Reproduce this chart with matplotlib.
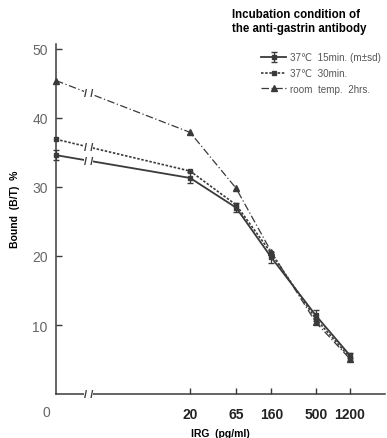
import numpy as np
import matplotlib
matplotlib.use("Agg")
from matplotlib import pyplot

pyplot.rcParams['font.family'] = ['Liberation Sans', 'DejaVu Sans']

# IRG concentrations (pg/ml); 0 is drawn at the broken left end of the axis
irg = [0, 20, 65, 160, 500, 1200]
bound_15min = [34.6, 31.3, 27.0, 19.8, 11.4, 5.6]
sd_15min = [0.7, 0.8, 0.7, 0.8, 0.8, 0.4]
bound_30min = [36.9, 32.3, 27.4, 20.4, 10.9, 5.3]
bound_room = [45.4, 37.9, 29.8, 20.6, 10.4, 5.1]
tick_labels = ["20", "65", "160", "500", "1200"]

zero_pos = -0.19
break_pos = 0.17


def xpos(values):
    return np.array([zero_pos if v == 0 else np.log10(v) for v in values])


def break_y(series):
    # height of the line where it crosses the axis break
    x = xpos(irg)
    return series[0] + (series[1] - series[0]) * (break_pos - x[0]) / (x[1] - x[0])


fig = pyplot.figure(figsize=(3.87, 4.39), dpi=100)
ax = fig.add_axes([0.145, 0.1, 0.85, 0.7975])

ink = "#3a3a3a"
x = xpos(irg)

h1 = ax.errorbar(x, bound_15min, yerr=sd_15min, color=ink, lw=1.3, marker="s", ms=3.5,
                 capsize=2.5, elinewidth=0.9, clip_on=False, zorder=4,
                 label="37\u2103  15min. (m\u00b1sd)")
h2, = ax.plot(x, bound_30min, color=ink, lw=1.2, ls=(0, (1.5, 1)), marker="s", ms=3.5,
              clip_on=False, zorder=3, label="37\u2103  30min.")
h3, = ax.plot(x, bound_room, color=ink, lw=0.9, ls=(0, (6, 2, 1, 2)), marker="^", ms=4,
              clip_on=False, zorder=3, label="room  temp.  2hrs.")

for series in (bound_15min, bound_30min, bound_room):
    ax.text(break_pos, break_y(series), "/ /", ha="center", va="center", fontsize=8,
            fontweight="bold", color=ink,
            bbox=dict(facecolor="white", edgecolor="none", pad=0.1), zorder=5)
ax.text(break_pos, 0, "/ /", ha="center", va="center", fontsize=8, fontweight="bold",
        color=ink, bbox=dict(facecolor="white", edgecolor="none", pad=0.1),
        clip_on=False, zorder=5)

ax.set_xlim(zero_pos, 3.47)
ax.set_ylim(0, 50.7)
ax.set_xticks(np.log10([20, 65, 160, 500, 1200]))
ax.set_xticklabels(tick_labels, fontsize=10, fontweight="bold", color="#222222")
ax.set_yticks([10, 20, 30, 40, 50])
ax.set_yticklabels(["10", "20", "30", "40", "50"], fontsize=10, color="#666666")
ax.tick_params(axis="both", direction="in", length=4, width=1, color=ink, pad=6)
ax.tick_params(axis="x", pad=9)
for side in ("top", "right"):
    ax.spines[side].set_visible(False)
for side in ("left", "bottom"):
    ax.spines[side].set_color(ink)
    ax.spines[side].set_linewidth(1.1)

ax.text(-0.03, -0.052, "0", transform=ax.transAxes, ha="center", va="center",
        fontsize=10, color="#666666")
ax.set_xlabel("IRG  (pg/ml)", fontsize=7.5, fontweight="bold", labelpad=5)
ax.set_ylabel("Bound  (B/T)  %", fontsize=7.5, fontweight="bold", labelpad=4)
ax.yaxis.set_label_coords(-0.11, 0.53)

fig.text(0.6, 0.98, "Incubation condition of\nthe anti-gastrin antibody",
         ha="left", va="top", fontsize=8.3, fontweight="bold", linespacing=1.25)
leg = ax.legend(handles=[h1, h2, h3], loc="upper left", bbox_to_anchor=(0.665, 0.888),
                bbox_transform=fig.transFigure, frameon=False, fontsize=7.1,
                handlelength=2.5, handletextpad=0.4, labelspacing=0.6, borderaxespad=0)
for t in leg.get_texts():
    t.set_color("#555555")

fig.savefig("out.png", dpi=100)
